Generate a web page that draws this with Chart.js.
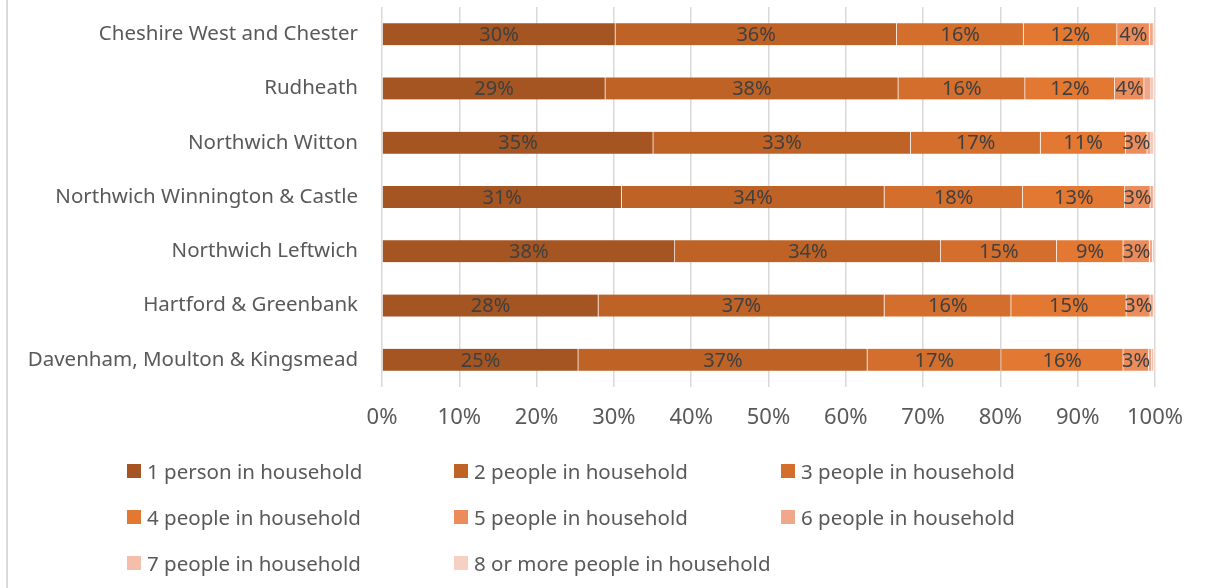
<!DOCTYPE html>
<html>
<head>
<meta charset="utf-8">
<script src="https://cdn.jsdelivr.net/npm/chart.js@4/dist/chart.umd.min.js"></script>
<style>
  body { margin: 0; background: #fff; }
  #wrap { position: relative; width: 1205px; height: 588px; overflow: hidden; }
  #frame { position: absolute; left: 6px; top: 0; width: 0; height: 588px; border-left: 2px solid #d9d9d9; }
  #legend { position: absolute; left: 0; top: 0; width: 1205px; height: 588px; pointer-events: none;
            font-family: "Noto Sans", sans-serif; font-size: 20.5px; color: #595959; }
  .item { position: absolute; white-space: nowrap; display: flex; align-items: center; transform: translateY(-50%); }
  .box { width: 14px; height: 14px; margin-right: 6px; }
</style>
</head>
<body>
<div id="wrap">
  <canvas id="hh" width="1205" height="588"></canvas>
  <div id="frame"></div>
  <div id="legend"></div>
</div>
<script>
// household size by ward, share of households (%)
var wards = [
  'Cheshire West and Chester',
  'Rudheath',
  'Northwich Witton',
  'Northwich Winnington & Castle',
  'Northwich Leftwich',
  'Hartford & Greenbank',
  'Davenham, Moulton & Kingsmead'
];

var sizeLabels = [
  '1 person in household',
  '2 people in household',
  '3 people in household',
  '4 people in household',
  '5 people in household',
  '6 people in household',
  '7 people in household',
  '8 or more people in household'
];

var p1 = [30.2, 28.9, 35.1, 31.0, 37.9, 28.0, 25.4];
var p2 = [36.4, 37.9, 33.3, 34.0, 34.4, 37.0, 37.4];
var p3 = [16.4, 16.4, 16.8, 17.9, 15.0, 16.4, 17.3];
var p4 = [12.1, 11.6, 11.0, 13.2, 8.6, 14.9, 15.8];
var p5 = [4.2, 3.8, 2.8, 3.3, 3.4, 3.1, 3.3];
var p6 = [0.5, 0.9, 0.5, 0.4, 0.4, 0.4, 0.4];
var p7 = [0.1, 0.3, 0.3, 0.1, 0.2, 0.1, 0.2];
var p8 = [0.1, 0.2, 0.2, 0.1, 0.1, 0.1, 0.2];

var xTicks = [0, 10, 20, 30, 40, 50, 60, 70, 80, 90, 100];

var colours = ['#a45522', '#be6226', '#d46e2c', '#e37832', '#ec8c5a', '#f0a78a', '#f4beaa', '#f6d0c3'];
var series = [p1, p2, p3, p4, p5, p6, p7, p8];

var FONT = '"Noto Sans", sans-serif';

// percentage labels in the middle of the bigger segments
const segLabels = {
  id: 'segLabels',
  afterDatasetsDraw(chart) {
    const ctx = chart.ctx;
    ctx.save();
    ctx.font = '20px ' + FONT;
    ctx.fillStyle = '#404040';
    ctx.textAlign = 'center';
    ctx.textBaseline = 'middle';
    chart.data.datasets.forEach(function (ds, i) {
      if (i > 4) return;
      chart.getDatasetMeta(i).data.forEach(function (bar, j) {
        const p = bar.getProps(['x', 'y', 'base'], true);
        ctx.fillText(Math.round(ds.data[j]) + '%', (p.x + p.base) / 2, p.y + 1);
      });
    });
    ctx.restore();
  }
};

var ctx_hh = document.getElementById('hh');
var hh = new Chart(ctx_hh, {
  type: 'bar',
  data: {
    labels: wards,
    datasets: series.map(function (d, i) {
      return {
        label: sizeLabels[i],
        data: d,
        backgroundColor: colours[i],
        borderColor: 'rgba(255,255,255,0.35)',
        borderWidth: { right: 1 },
        borderSkipped: false,
        barThickness: 22
      };
    })
  },
  options: {
    indexAxis: 'y',
    responsive: false,
    animation: false,
    layout: { padding: { top: 7, right: 50, left: 0, bottom: 0 } },
    plugins: {
      legend: { display: false },
      tooltip: { enabled: false }
    },
    scales: {
      x: {
        stacked: true,
        min: 0,
        max: 100,
        afterBuildTicks: function (axis) {
          axis.ticks = xTicks.map(function (v) { return { value: v }; });
        },
        afterFit: function (axis) { axis.height = 201; },
        grid: { color: '#d9d9d9', lineWidth: 1.5, drawTicks: false },
        border: { display: false },
        ticks: {
          padding: 18,
          color: '#595959',
          font: { family: FONT, size: 22 },
          callback: function (v) { return v + '%'; }
        }
      },
      y: {
        stacked: true,
        afterFit: function (axis) {
          axis.width = 382;
          // tick padding would otherwise push the plot area down
          axis.paddingTop = 0;
          axis.paddingBottom = 0;
        },
        grid: { display: false, drawTicks: false },
        border: { display: false },
        ticks: {
          padding: 24,
          color: '#595959',
          font: { family: FONT, size: 20.5 }
        }
      }
    }
  },
  plugins: [segLabels]
});

// legend laid out in three columns
var legendCols = [127, 454, 781];
var legendRows = [471, 517, 563];
var legendBox = document.getElementById('legend');
sizeLabels.forEach(function (name, i) {
  var item = document.createElement('div');
  item.className = 'item';
  item.style.left = legendCols[i % 3] + 'px';
  item.style.top = legendRows[Math.floor(i / 3)] + 'px';
  var sw = document.createElement('span');
  sw.className = 'box';
  sw.style.background = colours[i];
  item.appendChild(sw);
  item.appendChild(document.createTextNode(name));
  legendBox.appendChild(item);
});
</script>
</body>
</html>
